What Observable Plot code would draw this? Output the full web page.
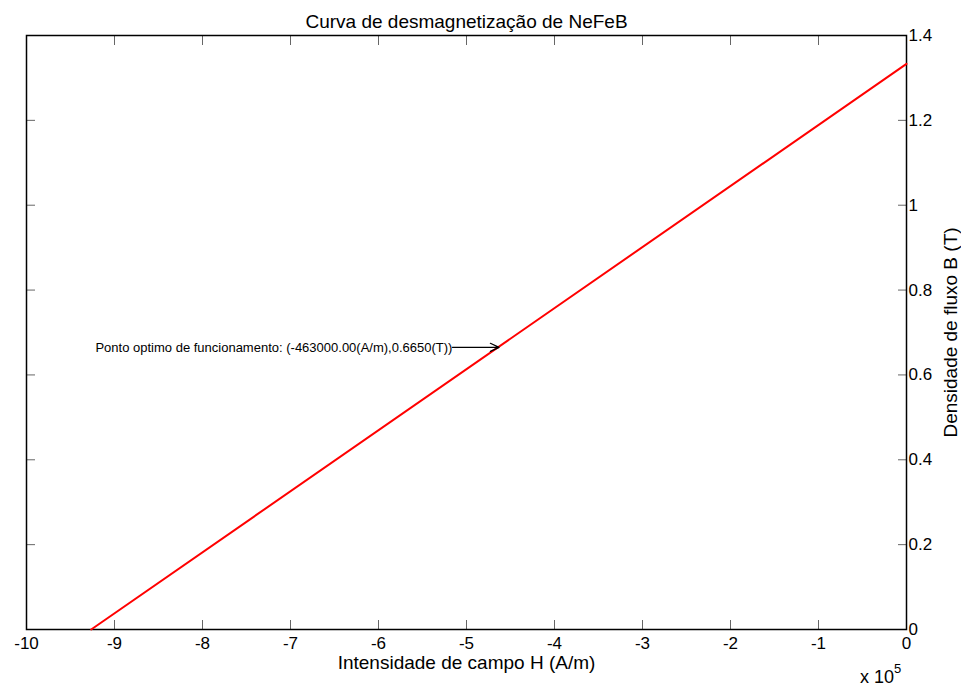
<!DOCTYPE html>
<html>
<head>
<meta charset="utf-8">
<script src="https://cdn.jsdelivr.net/npm/d3@7"></script>
<script src="https://cdn.jsdelivr.net/npm/@observablehq/plot@0.6"></script>
<style>
  html, body { margin: 0; padding: 0; background: #fff; }
  #chart svg { display: block; }
</style>
</head>
<body>
<div id="chart"></div>
<script>
// Data
const H = [-926500, 0];          // A/m
const B = [0, 1.333];            // T
const xTicks = [-1000000, -900000, -800000, -700000, -600000, -500000, -400000, -300000, -200000, -100000, 0];
const yTicks = [0, 0.2, 0.4, 0.6, 0.8, 1, 1.2, 1.4];
const optH = [-463000];
const optB = [0.665];
const arrowStartH = [-516000];
const annotation = ["Ponto optimo de funcionamento: (-463000.00(A/m),0.6650(T))"];

const title = "Curva de desmagnetização de NeFeB";
const xLabel = "Intensidade de campo H (A/m)";
const yLabel = "Densidade de fluxo B (T)";

const curve = H.map((h, i) => ({H: h, B: B[i]}));
const fontFamily = "Arial, 'Liberation Sans', sans-serif";

const chart = Plot.plot({
  width: 961,
  height: 686,
  marginLeft: 26,
  marginRight: 55,
  marginTop: 35,
  marginBottom: 57,
  style: {fontFamily, fontSize: "17px", color: "#000", background: "#fff"},
  x: {domain: [-1000000, 0], ticks: xTicks},
  y: {domain: [0, 1.4], ticks: yTicks},
  marks: [
    // inward ticks, bottom & top
    Plot.axisX({anchor: "bottom", ticks: xTicks, tickSize: -9, text: null, label: null, stroke: "#666"}),
    Plot.axisX({anchor: "top", ticks: xTicks, tickSize: -9, text: null, label: null, stroke: "#666"}),
    Plot.axisX({anchor: "bottom", ticks: xTicks, tickSize: 0, tickPadding: 7, label: null,
      tickFormat: d => String(d / 1e5), fontSize: 17}),
    // inward ticks left & right
    Plot.axisY({anchor: "left", ticks: yTicks, tickSize: -9, text: null, label: null, stroke: "#666"}),
    Plot.axisY({anchor: "right", ticks: yTicks, tickSize: 0, tickPadding: 2, label: null,
      tickFormat: d => String(d), fontSize: 17, textAnchor: "start"}),
    Plot.axisY({anchor: "right", ticks: yTicks, tickSize: -9, text: null, label: null, stroke: "#666"}),
    Plot.frame({stroke: "#000", strokeWidth: 1.5}),
    Plot.line(curve, {x: "H", y: "B", stroke: "#ff0000", strokeWidth: 2}),
    Plot.arrow(optH.map((h, i) => ({x1: arrowStartH[i], x2: h, y: optB[i]})), {
      x1: "x1", x2: "x2", y1: "y", y2: "y", stroke: "#000", strokeWidth: 1.2, headLength: 12, headAngle: 50
    }),
    Plot.text(annotation.map((t, i) => ({t, x: arrowStartH[i], y: optB[i]})), {
      x: "x", y: "y", text: "t", textAnchor: "end", dx: 0, fontSize: 13, fill: "#000"
    }),
    // title
    Plot.text([title], {frameAnchor: "top", dy: -21, text: d => d, fontSize: 19, fill: "#000"}),
    // x label
    Plot.text([xLabel], {frameAnchor: "bottom", dy: 39, text: d => d, fontSize: 19, fill: "#000"}),
    // y label
    Plot.text([yLabel], {frameAnchor: "right", dx: 44, rotate: -90, textAnchor: "middle", text: d => d, fontSize: 19, fill: "#000"})
  ]
});

// exponent label "x 10^5"
const svg = d3.select(chart);
const g = svg.append("text")
  .attr("x", 860).attr("y", 683).attr("text-anchor", "start")
  .attr("font-family", fontFamily).attr("font-size", 18).attr("fill", "#000");
g.append("tspan").text("x 10");
g.append("tspan").attr("dy", -10).attr("font-size", 13).text("5");

document.getElementById("chart").appendChild(chart);
</script>
</body>
</html>
